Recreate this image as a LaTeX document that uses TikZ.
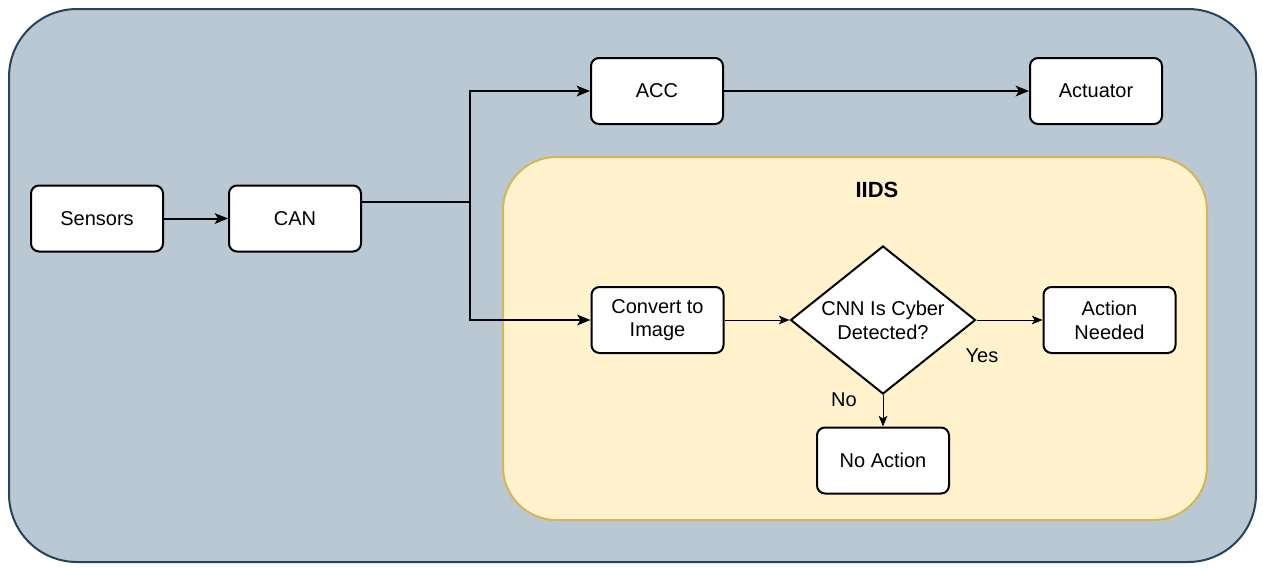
\documentclass[tikz,border=0pt]{standalone}
\usepackage{fontspec}
\setmainfont{Liberation Sans}
\usetikzlibrary{arrows.meta,shapes.geometric}
\definecolor{panelfill}{HTML}{BAC8D3}
\definecolor{paneldraw}{HTML}{23445D}
\definecolor{idsfill}{HTML}{FFF2CC}
\definecolor{idsdraw}{HTML}{D6B656}
\tikzset{
  box/.style={draw=black, fill=white, line width=1.5pt, rounded corners=6pt,
    minimum width=99pt, minimum height=49.5pt, align=center, inner sep=2pt,
    font=\fontsize{15}{17.8}\selectfont},
  decision/.style={draw=black, fill=white, line width=1.5pt, diamond, aspect=1.25,
    minimum width=138.75pt, minimum height=111pt, inner sep=0pt, align=center,
    font=\fontsize{15}{17.8}\selectfont},
  lbl/.style={font=\fontsize{15}{17.8}\selectfont, inner sep=0pt},
  thickflow/.style={line width=1.5pt, -{Stealth[length=10pt,width=8pt,inset=2.5pt]}},
  thinflow/.style={line width=0.75pt, -{Stealth[length=8pt,width=6.5pt,inset=2pt]}},
}
\begin{document}
\begin{tikzpicture}[x=0.75pt,y=-0.75pt]
  \useasboundingbox (0,0) rectangle (1263,569);
  % vehicle panel
  \draw[fill=panelfill, draw=paneldraw, line width=1.5pt, rounded corners=51pt]
    (9,9) rectangle (1256,562);
  % intrusion detection panel
  \draw[fill=idsfill, draw=idsdraw, line width=1.5pt, rounded corners=40pt]
    (503,157) rectangle (1207,520);
  \node[font=\fontsize{16.5}{19}\selectfont\bfseries] (iids) at (877,190) {IIDS};

  % blocks
  \node[box] (sens) at (97,218.5) {Sensors};
  \node[box] (can) at (295,218.5) {CAN};
  \node[box] (acc) at (657,91) {ACC};
  \node[box] (act) at (1096,91) {Actuator};
  \node[box] (conv) at (657.5,320) {Convert to\\Image};
  \node[decision] (cnn) at (883,320) {CNN Is Cyber\\Detected?};
  \node[box] (need) at (1109.5,320) {Action\\Needed};
  \node[box] (none) at (883,460.5) {No Action};

  % bus split point
  \coordinate (split) at (470,202);

  % connectors
  \draw[thickflow] (sens) -- (can);
  \draw[line width=1.5pt] (can.east |- split) -- (split);
  \draw[thickflow] (split) |- (acc.west);
  \draw[thickflow] (split) |- (conv.west);
  \draw[thickflow] (acc) -- (act);
  \draw[thinflow] (conv) -- (cnn);
  \draw[thinflow] (cnn) -- (need);
  \draw[thinflow] (cnn) -- (none);

  % branch labels
  \node[lbl] (yes) at (982,356) {Yes};
  \node[lbl] (no) at (844,400) {No};
\end{tikzpicture}
\end{document}
